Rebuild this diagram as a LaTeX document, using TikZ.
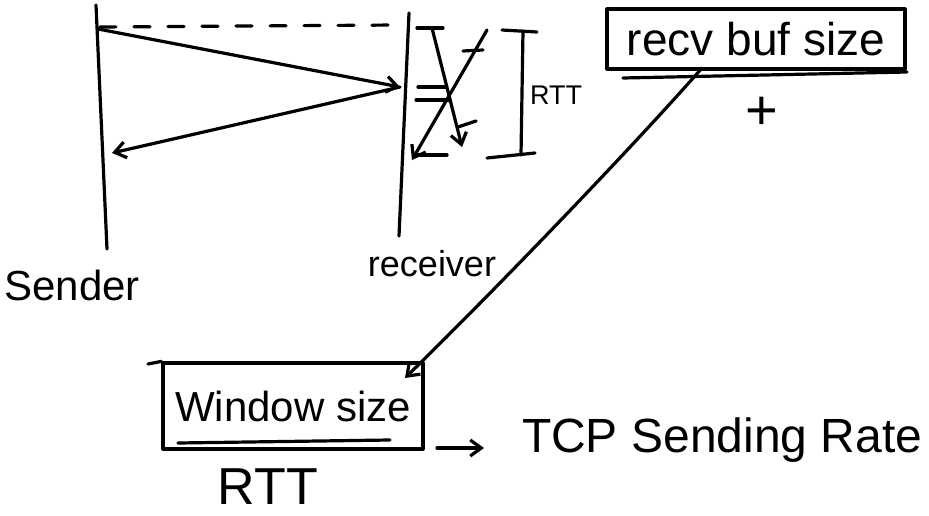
\documentclass[tikz,border=0pt]{standalone}
\usepackage{fontspec}
\setmainfont{Liberation Sans}
\usetikzlibrary{arrows.meta}
\begin{document}
\begin{tikzpicture}[x=1pt,y=-1pt,
  pen/.style={line width=3.2pt, line cap=round, line join=round},
  tipped/.style={-{Straight Barb[length=11pt,width=16pt,line width=3.2pt]}},
  hand/.style={inner sep=0pt, outer sep=0pt},
  boxed/.style={draw, pen, inner sep=0pt}]
\useasboundingbox (0,0) rectangle (929,516);
% lifelines
\coordinate (sTop) at (96,5);
\coordinate (sBot) at (107,249);
\coordinate (rTop) at (409,13);
\coordinate (rBot) at (399,236);
\draw[pen] (sTop) -- (sBot);
\draw[pen] (rTop) -- (rBot);
% dashed reference line
\coordinate (dashL) at (100,27);
\coordinate (dashR) at (398,25);
\draw[pen, dash pattern=on 16pt off 18pt] (dashL) -- (dashR);
% messages
\coordinate (sSend) at (98,29);
\coordinate (rRecv) at (400,87);
\coordinate (sBack) at (112,153);
\draw[pen, tipped] (sSend) -- (rRecv);
\draw[pen, tipped] (rRecv) -- (sBack);
% crossing sketch at receiver
\coordinate (xa1) at (432,28);
\coordinate (xa2) at (462,147);
\coordinate (xb1) at (487,30);
\coordinate (xb2) at (412,160);
\draw[pen] (417,28) -- (443,28);
\draw[pen] (418,87) -- (446,87);
\draw[pen] (416,100) -- (450,100);
\draw[pen] (417,155) -- (447,155);
\draw[pen, tipped] (xa1) -- (xa2);
\draw[pen, tipped] (xb1) -- (xb2);
\draw[pen] (463,51) -- (483,50);
\draw[pen] (458,127) -- (476,121);
% RTT bracket
\coordinate (bT) at (523,31);
\coordinate (bB) at (521,155);
\draw[pen] (502,30) -- (537,32);
\draw[pen] (bT) -- (bB);
\draw[pen] (487,158) -- (535,153);
\node[hand, font=\fontsize{27}{29}\selectfont] (rtt1) at (556,95) {RTT};
% labels
\node[hand, font=\fontsize{42}{44}\selectfont] (sender) at (72,285) {Sender};
\node[hand, font=\fontsize{36}{38}\selectfont] (receiver) at (432,264) {receiver};
% recv buf size box
\node[boxed, minimum width=298pt, minimum height=60pt, font=\fontsize{46}{48}\selectfont] (recv) at (756,39) {recv buf size};
\draw[pen] (623,78) -- (907,72);
\node[hand, font=\fontsize{56}{58}\selectfont] (plus) at (762,113) {+};
% window size box
\node[boxed, minimum width=260pt, minimum height=86pt, font=\fontsize{42}{44}\selectfont] (win) at (293,406) {Window size};
\draw[pen] (148,364) -- (win.north west);
\draw[pen] (178,443) -- (390,440);
\node[hand, font=\fontsize{52}{54}\selectfont] (rtt2) at (268,487) {RTT};
% connector recv -> window
\coordinate (cA) at (702,68);
\coordinate (cB) at (405,378);
\draw[pen, tipped] (cA) .. controls (630,150) and (490,295) .. (cB);
% output
\node[hand, anchor=west, font=\fontsize{48}{50}\selectfont] (tcp) at (522,440) {TCP Sending Rate};
\coordinate (wOut) at (437,448);
\draw[pen, tipped] (wOut) -- ([xshift=-38pt,yshift=-8pt]tcp.west);
\end{tikzpicture}
\end{document}
